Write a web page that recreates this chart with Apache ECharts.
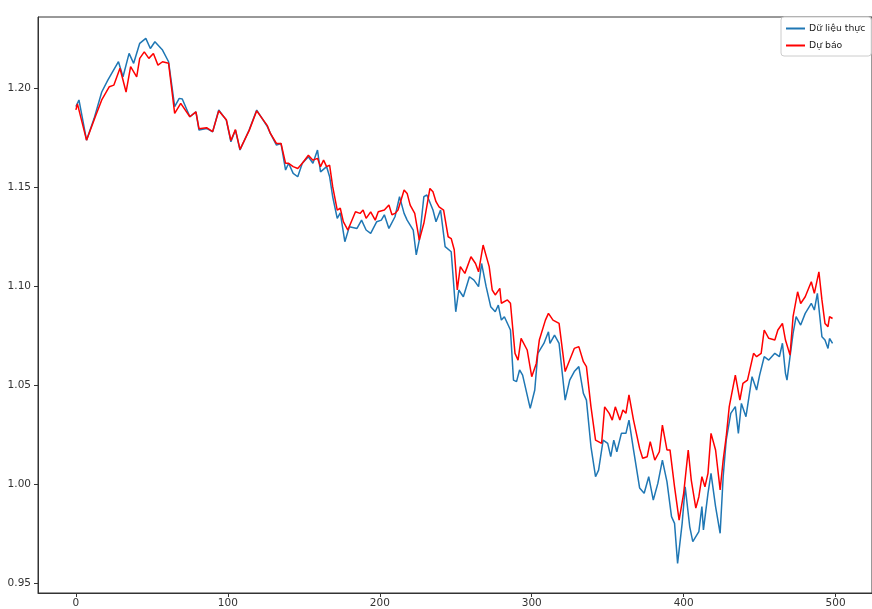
<!DOCTYPE html>
<html>
<head>
<meta charset="utf-8">
<script src="https://cdn.jsdelivr.net/npm/echarts@6/dist/echarts.min.js"></script>
<style>
  html, body { margin: 0; padding: 0; background: #fff; }
  #chart { width: 872px; height: 609px; }
</style>
</head>
<body>
<div id="chart"></div>
<script>
// Actual series: sample index and value
const actualIdx = [0,2,7,12,17,21,28,31,35,38,42,46,49,52,57,61,65,68,70,75,79,81,86,90,94,99,102,105,108,114,119,126,128,132,135,138,140,143,146,149,153,156,159,161,165,167,169,172,174,177,180,185,188,191,194,198,201,203,206,210,213,216,218,222,224,226,229,231,235,237,240,243,247,250,252,255,259,262,265,267,270,273,276,278,280,282,286,288,290,292,294,299,302,304,308,311,312,315,318,322,325,328,331,334,336,339,342,344,347,350,352,354,356,359,362,364,367,371,374,377,380,383,386,389,392,394,396,399,401,404,406,410,412,413,416,418,421,424,426,428,431,434,436,438,441,445,448,450,453,456,460,463,465,467,468,470,472,474,477,480,484,486,488,491,493,495,496,498];
const actualVal = [1.1906,1.194,1.1737,1.1847,1.198,1.204,1.2133,1.2057,1.2175,1.2125,1.2226,1.2251,1.220,1.2234,1.2192,1.2133,1.1906,1.1948,1.1945,1.1855,1.188,1.1788,1.1796,1.1779,1.1889,1.1838,1.1729,1.1788,1.1687,1.1788,1.1889,1.1805,1.1771,1.1712,1.172,1.1586,1.162,1.1569,1.1552,1.162,1.1653,1.162,1.1687,1.1577,1.1603,1.1552,1.1451,1.1342,1.137,1.1224,1.130,1.1291,1.1333,1.1283,1.1266,1.1325,1.1333,1.136,1.1291,1.135,1.1451,1.1367,1.1333,1.1283,1.1157,1.1232,1.1451,1.146,1.1384,1.1325,1.1384,1.1199,1.1173,1.087,1.098,1.0946,1.1047,1.103,1.0997,1.1114,1.0997,1.0896,1.087,1.0904,1.0828,1.0845,1.0778,1.0525,1.0517,1.0576,1.055,1.0382,1.0475,1.066,1.071,1.0769,1.071,1.0752,1.071,1.0424,1.0525,1.0568,1.0593,1.0458,1.0424,1.0188,1.0037,1.007,1.0222,1.0205,1.0138,1.0222,1.0163,1.0256,1.0256,1.0323,1.0172,0.998,0.9953,1.0037,0.9919,1.0003,1.0121,1.0012,0.9835,0.9801,0.9599,0.9801,0.9986,0.9784,0.9709,0.976,0.9886,0.9768,0.9953,1.0054,0.9886,0.9751,1.0037,1.0222,1.0357,1.0391,1.0256,1.0407,1.034,1.0542,1.0475,1.055,1.0643,1.0626,1.066,1.0643,1.0711,1.0559,1.0525,1.0643,1.0761,1.0845,1.0803,1.0862,1.0913,1.0879,1.0963,1.0744,1.0727,1.0685,1.0735,1.071];

// Forecast series: sample index and value
const forecastIdx = [0,1,7,13,17,22,25,29,33,36,40,42,45,48,51,54,57,61,65,69,75,79,81,86,90,94,99,102,105,108,114,119,126,128,132,135,138,140,143,146,149,153,156,159,161,163,165,167,169,172,174,176,179,184,187,189,191,194,197,199,203,206,208,210,212,216,218,220,223,226,229,233,235,237,239,242,245,247,249,251,253,256,260,263,265,268,272,274,276,279,280,284,286,289,291,293,297,300,303,305,309,311,314,318,322,325,328,331,334,336,339,342,346,348,351,353,355,358,360,362,364,367,371,373,376,378,381,384,386,389,391,394,397,400,403,405,408,410,412,414,416,418,421,424,426,428,430,434,437,439,442,446,448,451,453,456,460,462,465,467,470,472,475,477,480,484,486,489,491,493,495,496,498];
const forecastVal = [1.189,1.192,1.1737,1.186,1.194,1.2007,1.2015,1.21,1.198,1.2108,1.2057,1.215,1.2183,1.215,1.2175,1.2116,1.2133,1.2125,1.1872,1.1923,1.1855,1.188,1.1795,1.18,1.178,1.1885,1.184,1.1735,1.179,1.169,1.1785,1.1885,1.181,1.1771,1.172,1.172,1.162,1.162,1.1603,1.1594,1.162,1.1661,1.1636,1.1645,1.1603,1.1636,1.1603,1.161,1.1502,1.1384,1.1393,1.1325,1.1283,1.1375,1.1367,1.1384,1.1342,1.1375,1.1333,1.1375,1.1384,1.1409,1.136,1.1367,1.1384,1.1485,1.1468,1.1409,1.1367,1.1232,1.1317,1.1493,1.1476,1.1426,1.140,1.1384,1.1249,1.124,1.1183,1.098,1.1098,1.1064,1.1148,1.1114,1.1072,1.1207,1.1098,1.098,1.0955,1.0988,1.0913,1.093,1.0913,1.066,1.0626,1.0736,1.0677,1.0542,1.0609,1.0727,1.0828,1.0862,1.0828,1.0811,1.0568,1.0626,1.0685,1.0694,1.0618,1.0593,1.039,1.0222,1.0205,1.039,1.0357,1.0323,1.039,1.0323,1.0374,1.0357,1.045,1.0323,1.018,1.013,1.0138,1.0214,1.0121,1.0163,1.0298,1.0172,1.0172,0.9986,0.9818,0.9953,1.0172,1.002,0.9878,0.9936,1.0037,0.9986,1.0054,1.0256,1.0172,0.997,1.0121,1.0239,1.0391,1.055,1.0424,1.0508,1.0525,1.066,1.0643,1.066,1.0778,1.0736,1.0727,1.0778,1.0811,1.0727,1.0651,1.0845,1.0971,1.0912,1.0946,1.1022,1.0963,1.1072,1.093,1.0811,1.0795,1.0845,1.0836];

// Tick positions
const xTicks = [0, 100, 200, 300, 400, 500];
const yTicks = [0.95, 1.00, 1.05, 1.10, 1.15, 1.20];

const seriesNames = ['Dữ liệu thực', 'Dự báo'];

function pairs(xs, ys) { return xs.map((x, i) => [x, ys[i]]); }

const font = 'DejaVu Sans';
const chart = echarts.init(document.getElementById('chart'), null, { renderer: 'canvas' });

chart.setOption({
  animation: false,
  backgroundColor: '#ffffff',
  textStyle: { fontFamily: font },
  grid: {
    left: 38, top: 17, width: 842, height: 576,
    show: true, borderColor: '#333', borderWidth: 1, backgroundColor: 'transparent'
  },
  legend: {
    orient: 'vertical',
    left: 781, top: 17,
    itemWidth: 19, itemHeight: 2, itemGap: 8,
    icon: 'rect',
    padding: [7, 6, 6, 5],
    backgroundColor: '#fff',
    borderColor: '#ccc', borderWidth: 1, borderRadius: 3,
    textStyle: { fontFamily: font, fontSize: 9.3, color: '#222', padding: [0, 0, 0, -1] },
    data: seriesNames
  },
  xAxis: {
    type: 'value',
    min: -24.95, max: 523.95,
    splitLine: { show: false },
    axisLine: { show: true, onZero: false, lineStyle: { color: '#333', width: 1 } },
    axisTick: { show: true, length: 4, customValues: xTicks, lineStyle: { color: '#333' } },
    axisLabel: { customValues: xTicks, margin: 5, fontSize: 10.5, color: '#333', fontFamily: font,
      formatter: v => String(v) }
  },
  yAxis: {
    type: 'value',
    min: 0.94495, max: 1.2359,
    splitLine: { show: false },
    axisLine: { show: true, onZero: false, lineStyle: { color: '#333', width: 1 } },
    axisTick: { show: true, length: 4, customValues: yTicks, lineStyle: { color: '#333' } },
    axisLabel: { customValues: yTicks, margin: 7, fontSize: 10.5, color: '#333', fontFamily: font,
      formatter: v => v.toFixed(2) }
  },
  series: [
    {
      name: seriesNames[0], type: 'line', data: pairs(actualIdx, actualVal),
      showSymbol: false, symbol: 'none',
      lineStyle: { color: '#1f77b4', width: 1.5 }, itemStyle: { color: '#1f77b4' }
    },
    {
      name: seriesNames[1], type: 'line', data: pairs(forecastIdx, forecastVal),
      showSymbol: false, symbol: 'none',
      lineStyle: { color: '#ff0000', width: 1.5 }, itemStyle: { color: '#ff0000' }
    }
  ]
});
</script>
</body>
</html>
